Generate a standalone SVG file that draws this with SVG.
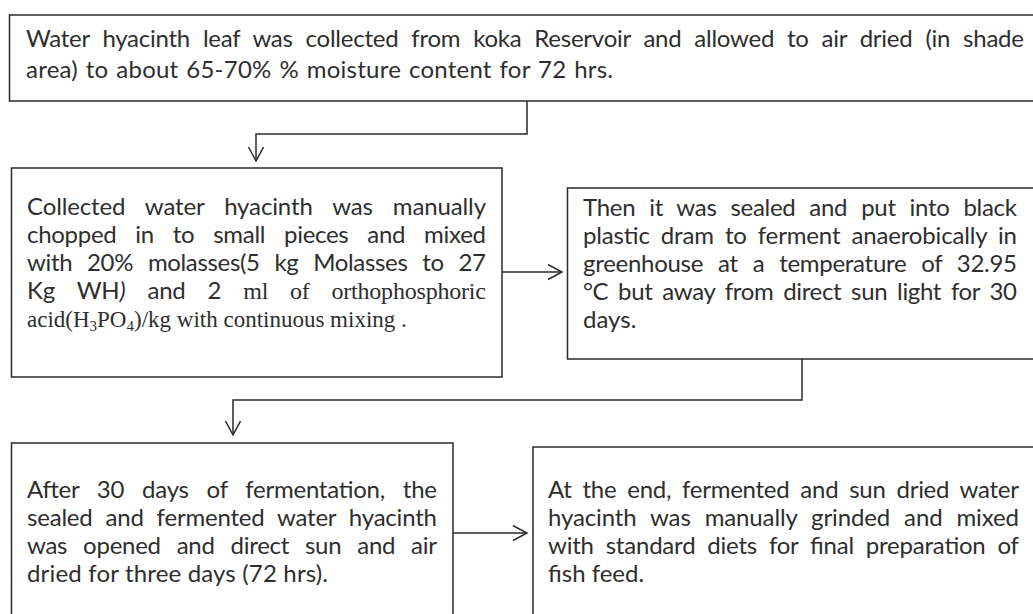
<svg xmlns="http://www.w3.org/2000/svg" width="1033" height="614" viewBox="0 0 1033 614">
<style>
  .box { fill: #ffffff; stroke: #2a2a2a; stroke-width: 1.5; }
  .t { font-family: Lato, "Open Sans", "Liberation Sans", sans-serif; font-size: 24px; fill: #2e2e2e; }
  .s { font-family: "Liberation Serif", "Times New Roman", serif; font-size: 23px; }
  .sub { font-size: 15px; }
  .conn { fill: none; stroke: #2a2a2a; stroke-width: 1.5; }
</style>
<defs>
  <marker id="arr" markerUnits="userSpaceOnUse" markerWidth="20" markerHeight="20" viewBox="0 0 20 20" refX="15" refY="8" orient="auto">
    <path d="M1,0.5 L15,8 L1,15.5" fill="none" stroke="#2a2a2a" stroke-width="1.5"/>
  </marker>
</defs>
<rect width="1033" height="614" fill="#ffffff"/>

<g id="node1">
  <rect class="box" x="9.5" y="15" width="1040" height="86"/>
  <text class="t" x="26" y="47" textLength="998" lengthAdjust="spacing" style="word-spacing:7px">Water hyacinth leaf was collected from koka Reservoir and allowed to air dried (in shade</text>
  <text class="t" x="26" y="78" textLength="587" lengthAdjust="spacing" style="word-spacing:1.5px">area) to about 65-70% % moisture content for 72 hrs.</text>
</g>

<g id="node2">
  <rect class="box" x="11.5" y="168" width="490.5" height="209"/>
  <text class="t" x="27" y="215" textLength="459" lengthAdjust="spacing" style="word-spacing:14px">Collected water hyacinth was manually</text>
  <text class="t" x="27" y="243" textLength="459" lengthAdjust="spacing" style="word-spacing:13px">chopped in to small pieces and mixed</text>
  <text class="t" x="27" y="271" textLength="459" lengthAdjust="spacing" style="word-spacing:9px">with 20% molasses(5 kg Molasses to 27</text>
  <text class="t" x="27" y="299" textLength="459" lengthAdjust="spacing" style="word-spacing:16px">Kg WH<tspan font-style="italic">)</tspan> and 2 <tspan class="s" style="font-size:24px">ml of orthophosphoric</tspan></text>
  <text class="t s" x="27" y="327">acid(H<tspan class="sub" dy="4">3</tspan><tspan dy="-4">PO</tspan><tspan class="sub" dy="4">4</tspan><tspan dy="-4">)/kg with continuous mixing .</tspan></text>
</g>

<g id="node3">
  <rect class="box" x="567.5" y="188" width="480" height="171"/>
  <text class="t" x="583" y="216" textLength="434" lengthAdjust="spacing" style="word-spacing:8px">Then it was sealed and put into black</text>
  <text class="t" x="583" y="244" textLength="434" lengthAdjust="spacing" style="word-spacing:5px">plastic dram to ferment anaerobically in</text>
  <text class="t" x="583" y="272" textLength="434" lengthAdjust="spacing" style="word-spacing:9px">greenhouse at a temperature of 32.95</text>
  <text class="t" x="583" y="300" textLength="434" lengthAdjust="spacing" style="word-spacing:4px">°C but away from direct sun light for 30</text>
  <text class="t" x="583" y="328">days.</text>
</g>

<g id="node4">
  <rect class="box" x="11.5" y="443" width="441.5" height="200"/>
  <text class="t" x="27" y="498" textLength="410" lengthAdjust="spacing" style="word-spacing:12px">After 30 days of fermentation, the</text>
  <text class="t" x="27" y="526" textLength="410" lengthAdjust="spacing" style="word-spacing:7px">sealed and fermented water hyacinth</text>
  <text class="t" x="27" y="554" textLength="410" lengthAdjust="spacing" style="word-spacing:10px">was opened and direct sun and air</text>
  <text class="t" x="27" y="582" textLength="301" lengthAdjust="spacing">dried for three days (72 hrs).</text>
</g>

<g id="node5">
  <rect class="box" x="533" y="447" width="520" height="200"/>
  <text class="t" x="548" y="498" textLength="471" lengthAdjust="spacing" style="word-spacing:5px">At the end, fermented and sun dried water</text>
  <text class="t" x="548" y="526" textLength="471" lengthAdjust="spacing" style="word-spacing:8px">hyacinth was manually grinded and mixed</text>
  <text class="t" x="548" y="554" textLength="471" lengthAdjust="spacing" style="word-spacing:6px">with standard diets for final preparation of</text>
  <text class="t" x="548" y="582">fish feed.</text>
</g>

<g id="connectors">
  <path class="conn" d="M527,101 V134 H256 V161" marker-end="url(#arr)"/>
  <path class="conn" d="M502,272 H562" marker-end="url(#arr)"/>
  <path class="conn" d="M802,359 V400 H233 V435" marker-end="url(#arr)"/>
  <path class="conn" d="M453,533 H527" marker-end="url(#arr)"/>
</g>
</svg>
